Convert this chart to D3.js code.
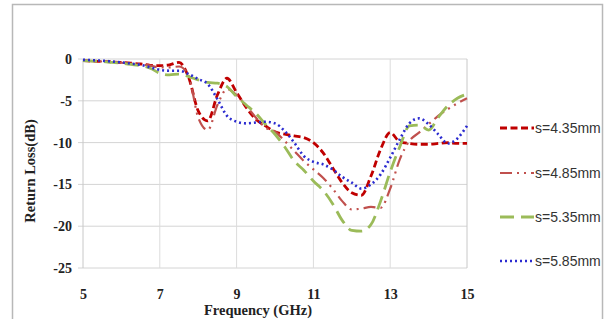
<!DOCTYPE html>
<html><head><meta charset="utf-8">
<script src="https://cdn.jsdelivr.net/npm/d3@7"></script>
<style>html,body{margin:0;padding:0;background:#fff;}svg{display:block;}</style>
</head><body>
<svg id="chart" width="610" height="319"></svg>
<script>
const freq = [5,5.25,5.5,5.75,6,6.25,6.5,6.75,7,7.25,7.5,7.75,8,8.25,8.5,8.75,9,9.25,9.5,9.75,10,10.25,10.5,10.75,11,11.25,11.5,11.75,12,12.25,12.5,12.75,13,13.25,13.5,13.75,14,14.25,14.5,14.75,15];
const s435 = [-0.2,-0.25,-0.3,-0.35,-0.4,-0.5,-0.6,-0.75,-0.8,-0.7,-0.4,-2.2,-6.2,-7.4,-4.3,-2.3,-4.0,-5.8,-7.2,-8.0,-8.7,-9.0,-9.2,-9.4,-10.0,-11.2,-13.0,-14.8,-16.0,-16.3,-14.0,-10.8,-8.8,-9.9,-10.1,-10.2,-10.2,-10.1,-10.0,-10.1,-10.1];
const s485 = [-0.2,-0.25,-0.3,-0.35,-0.45,-0.55,-0.65,-0.8,-1.0,-1.0,-0.9,-2.0,-7.0,-8.5,-5.5,-3.6,-4.3,-5.6,-7.0,-8.2,-8.7,-9.8,-11.0,-12.2,-13.2,-14.2,-15.5,-17.0,-18.0,-17.9,-17.7,-17.8,-15.5,-12.0,-9.8,-8.8,-7.8,-6.8,-6.0,-5.3,-4.7];
const s535 = [-0.2,-0.25,-0.3,-0.4,-0.5,-0.65,-0.8,-1.1,-1.7,-1.9,-1.8,-2.1,-2.5,-2.8,-2.9,-3.3,-4.5,-5.5,-6.5,-7.8,-9.0,-10.5,-12.2,-13.3,-14.6,-15.7,-17.3,-19.3,-20.5,-20.6,-19.8,-17.0,-13.5,-10.5,-8.0,-7.9,-8.5,-7.0,-5.6,-4.7,-4.2];
const s585 = [-0.1,-0.15,-0.2,-0.3,-0.4,-0.55,-0.7,-1.0,-1.3,-1.4,-1.4,-1.8,-2.4,-3.0,-4.8,-6.8,-7.5,-7.7,-7.6,-7.5,-7.7,-8.6,-10.0,-11.6,-12.3,-12.6,-13.2,-14.1,-14.8,-15.5,-15.0,-13.8,-11.8,-9.6,-7.7,-7.1,-7.8,-9.0,-10.1,-9.5,-8.0];
const seriesNames = ["s=4.35mm","s=4.85mm","s=5.35mm","s=5.85mm"];
const xTicks = [5,7,9,11,13,15];
const yTicks = [0,-5,-10,-15,-20,-25];

const styles = [
  {color:"#c00000", dash:"7,3.5", width:2.8, cap:"butt"},
  {color:"#c0504d", dash:"12,5,2,5,2,5", width:2.2, cap:"butt"},
  {color:"#9bbb59", dash:"14,7", width:2.8, cap:"butt"},
  {color:"#2b2bd0", dash:"2,3", width:2.6, cap:"butt"}
];
const series = [s435,s485,s535,s585];

const svg = d3.select("#chart");
svg.append("rect").attr("x",12.5).attr("y",4.5).attr("width",590).attr("height",340)
  .attr("fill","none").attr("stroke","#b8b8b8").attr("stroke-width",1.5);

const L=83, R=467, T=59, B=268;
const x = d3.scaleLinear().domain([5,15]).range([L,R]);
const y = d3.scaleLinear().domain([-25,0]).range([B,T]);

svg.append("g").selectAll("line").data(yTicks).join("line")
  .attr("x1",L-5).attr("x2",R).attr("y1",d=>y(d)).attr("y2",d=>y(d))
  .attr("stroke","#d4d4d4").attr("stroke-width",1);
svg.append("g").selectAll("line").data(xTicks).join("line")
  .attr("x1",d=>x(d)).attr("x2",d=>x(d)).attr("y1",T).attr("y2",B)
  .attr("stroke",(d,i)=> i===0||i===xTicks.length-1 ? "#c8c8c8" : "#dcdcdc").attr("stroke-width",1);

const yAxis = d3.axisLeft(y).tickValues(yTicks).tickSize(0).tickPadding(9).tickFormat(d=>String(d));
const gy = svg.append("g").attr("transform",`translate(${L},0)`).call(yAxis);
gy.select(".domain").remove();
gy.selectAll("text").attr("font-family","Liberation Serif, serif").attr("font-weight","bold")
  .attr("font-size",14).attr("fill","#222").attr("dx",-2);

const xAxis = d3.axisBottom(x).tickValues(xTicks).tickSize(0).tickPadding(21).tickFormat(d=>String(d));
const gx = svg.append("g").attr("transform",`translate(0,${B})`).call(xAxis);
gx.select(".domain").remove();
gx.selectAll("text").attr("font-family","Liberation Serif, serif").attr("font-weight","bold")
  .attr("font-size",14).attr("fill","#222");

svg.append("text").attr("x",258).attr("y",315).attr("text-anchor","middle")
  .attr("font-family","Liberation Serif, serif").attr("font-weight","bold").attr("font-size",14.5)
  .attr("fill","#222").text("Frequency (GHz)");
svg.append("text").attr("transform","translate(35,171) rotate(-90)").attr("text-anchor","middle")
  .attr("font-family","Liberation Serif, serif").attr("font-weight","bold").attr("font-size",14.5)
  .attr("fill","#222").text("Return Loss(dB)");

const line = d3.line().x((d,i)=>x(freq[i])).y(d=>y(d)).curve(d3.curveMonotoneX);
series.forEach((s,k)=>{
  svg.append("path").datum(s).attr("d",line).attr("fill","none")
    .attr("stroke",styles[k].color).attr("stroke-width",styles[k].width)
    .attr("stroke-dasharray",styles[k].dash).attr("stroke-linecap",styles[k].cap);
});

const legY = [128,173,217,261];
const lg = svg.append("g");
seriesNames.forEach((n,k)=>{
  lg.append("line").attr("x1",500).attr("x2",534).attr("y1",legY[k]).attr("y2",legY[k])
    .attr("stroke",styles[k].color).attr("stroke-width",styles[k].width)
    .attr("stroke-dasharray",styles[k].dash);
  lg.append("text").attr("x",535).attr("y",legY[k]+5)
    .attr("font-family","Liberation Sans, sans-serif").attr("font-size",14)
    .attr("fill","#333").text(n);
});
</script>
</body></html>
